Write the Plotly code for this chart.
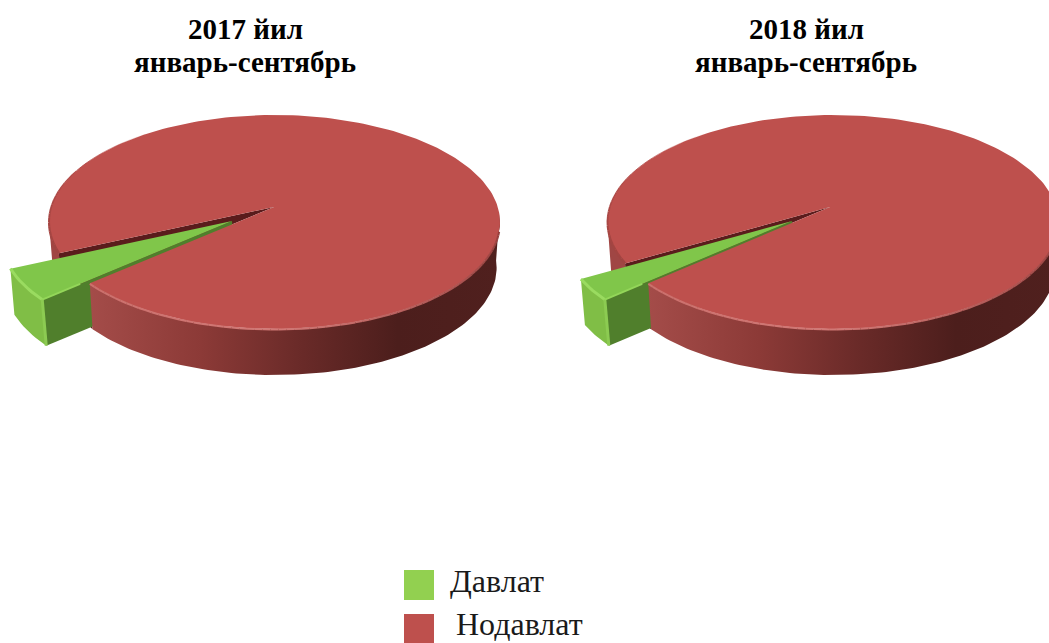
import numpy as np
import plotly.graph_objects as go

title_years = ["2017 йил", "2018 йил"]
title_span = "январь-сентябрь"
categories = ["Давлат", "Нодавлат"]
davlat = [5.0, 3.4]
nodavlat = [95.0, 96.6]

RED, GREEN = "#BE504D", "#92D050"
W, H = 1049, 643
RX, RY, DEPTH = 225.5, 107, 46
CY, APEX_Y = 222, 207
START = 145.0

SIDE = [[0.0, "rgb(164,76,73)"], [0.27, "rgb(140,58,55)"], [0.52, "rgb(105,42,40)"],
        [0.75, "rgb(76,30,28)"], [1.0, "rgb(80,32,30)"]]

fig = go.Figure()


def mix(c1, c2, v):
    return "rgb(%d,%d,%d)" % tuple(a + (b - a) * v for a, b in zip(c1, c2))


def poly(xs, ys, color, gradient=None):
    kw = dict(fillgradient=dict(type="horizontal", colorscale=gradient)) if gradient else dict(fillcolor=color)
    fig.add_trace(go.Scatter(x=list(xs), y=list(ys), mode="lines", fill="toself",
                             line=dict(width=0, color=color), hoverinfo="skip",
                             showlegend=False, **kw))


def stroke(xs, ys, color, width):
    fig.add_trace(go.Scatter(x=list(xs), y=list(ys), mode="lines",
                             line=dict(color=color, width=width),
                             hoverinfo="skip", showlegend=False))


def pie(cx, apex_x, green_apex_x, share):
    frac = share[0] / sum(share)
    t1 = START
    t2 = START + 360 * frac
    top = lambda t: (cx + RX * np.cos(np.radians(t)), CY + RY * np.sin(np.radians(t)))
    bot = lambda t: (cx + RX * 0.985 * np.cos(np.radians(t)),
                     CY + DEPTH + RY * np.sin(np.radians(t)))
    ax, ay = apex_x, APEX_Y
    gax, gay = green_apex_x, APEX_Y + 14
    k = 1.03
    gp = lambda p: (gax + (p[0] - ax) * k, gay + (p[1] - ay) * k)

    # red wall on the far side of the gap
    ts = np.linspace(t2, 180, 20)
    up, lo = [top(t) for t in ts], [bot(t) for t in ts[::-1]]
    poly([p[0] for p in up + lo], [p[1] for p in up + lo], "#A04644")

    # dark inside of the gap
    f, b = top(t1), top(t2)
    fd = bot(t1)
    poly([ax, f[0], fd[0], bot(t2)[0], b[0], ax], [ay, f[1], fd[1], bot(t2)[1], b[1], ay], "#5A1C1C")

    # green walls
    gf, gb = gp(f), gp(b)
    poly([gax, gf[0], gf[0] + 4, gax + 4], [gay, gf[1], gf[1] + DEPTH, gay + DEPTH], "#507F2C")
    ts = np.linspace(t1, t2, 12)
    outer = [gp(top(t)) for t in ts]
    lower = [(p[0] + 4, p[1] + DEPTH) for p in outer]
    poly([p[0] for p in outer + lower[::-1]], [p[1] for p in outer + lower[::-1]], "#80BE46")

    # red front wall, shaded left to right
    ts = np.linspace(-4, t1, 120)
    up, lo = [top(t) for t in ts], [bot(t) for t in ts[::-1]]
    poly([p[0] for p in up + lo], [p[1] for p in up + lo], "#8C3A37", SIDE)

    # red top face
    pts = [top(t) for t in np.linspace(t2, t1 + 360, 240)]
    poly([ax] + [p[0] for p in pts] + [ax], [ay] + [p[1] for p in pts] + [ay], RED)

    # rims of the red top
    edge = np.linspace(t2, 235, 31)
    for a, c, v in zip(edge[:-1], edge[1:], np.linspace(0, 1, 30)):
        seg = [top(t) for t in np.linspace(a, c, 4)]
        stroke([p[0] for p in seg], [p[1] for p in seg], mix((160, 68, 65), (190, 80, 77), v), 2.5 * (1 - v) + 0.1)
    edge = np.linspace(t1, 5, 71)
    for a, c, t in zip(edge[:-1], edge[1:], (edge[:-1] + edge[1:]) / 2):
        seg = [top(u) for u in np.linspace(a, c, 3)]
        xs = [p[0] for p in seg]
        ys = [p[1] + 0.5 for p in seg]
        v = (t1 - t) / (t1 - 5)
        colour = mix((204, 112, 109), (210, 122, 119), v / 0.4) if v < 0.4 else mix((210, 122, 119), (150, 62, 60), (v - 0.4) / 0.6)
        stroke(xs, ys, colour, 2)

    # green top face
    poly([gax] + [p[0] for p in outer] + [gax], [gay] + [p[1] for p in outer] + [gay], "#80C64A")
    stroke([p[0] for p in outer], [p[1] for p in outer], "#9ADB60", 3)
    stroke([gf[0], gf[0] + 4], [gf[1], gf[1] + DEPTH], "#8CCB52", 3)
    stroke([gf[0], gf[0] + (gax - gf[0]) * 0.2], [gf[1], gf[1] + (gay - gf[1]) * 0.2], "#93D659", 2)


pie(274.5, 274, 232, [davlat[0], nodavlat[0]])
pie(833, 830, 792, [davlat[1], nodavlat[1]])

# legend
fig.add_trace(go.Scatter(x=[419, 419], y=[585, 629], mode="markers",
                         marker=dict(symbol="square", size=30, color=[GREEN, RED]),
                         hoverinfo="skip", showlegend=False))
for name, x, y in zip(categories, [449, 455], [581, 624]):
    fig.add_annotation(x=x, y=y, text=name, showarrow=False, xanchor="left", yanchor="middle",
                       borderpad=0, font=dict(family="Liberation Serif", size=32, color="#1a1a1a"))

for year, x in zip(title_years, [245, 806]):
    fig.add_annotation(x=x, y=29, text="<b>%s</b>" % year, showarrow=False,
                       font=dict(family="Liberation Serif", size=29, color="#000000"))
    fig.add_annotation(x=x, y=62, text="<b>%s</b>" % title_span, showarrow=False,
                       font=dict(family="Liberation Serif", size=29, color="#000000"))

fig.update_layout(width=W, height=H, margin=dict(l=0, r=0, t=0, b=0),
                  paper_bgcolor="white", plot_bgcolor="white", showlegend=False,
                  xaxis=dict(range=[0, W], visible=False, fixedrange=True),
                  yaxis=dict(range=[H, 0], visible=False, fixedrange=True))
fig.write_html("out.html", config=dict(displayModeBar=False),
               post_script="document.body.style.margin='0';document.documentElement.style.overflow='hidden';")
